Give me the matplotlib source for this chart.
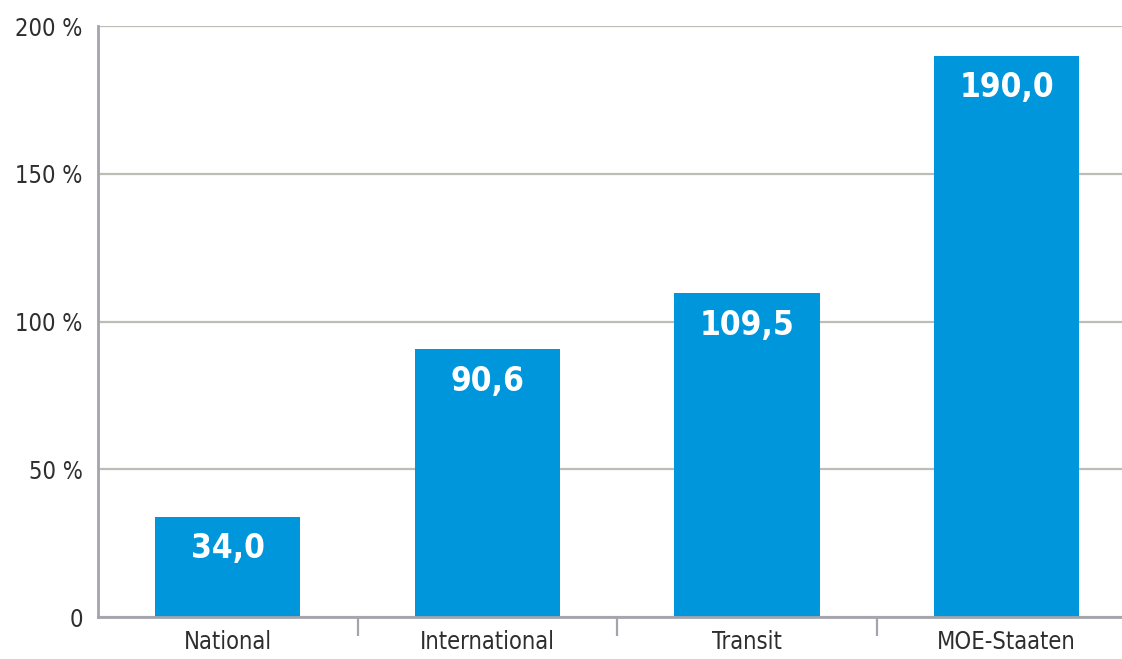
import matplotlib
matplotlib.use("Agg")
import matplotlib.pyplot as plt
from matplotlib.ticker import FixedLocator

# Growth of freight traffic by category (percent)
categories = ["National", "International", "Transit", "MOE-Staaten"]
values = [34.0, 90.6, 109.5, 190.0]
yticks = [0, 50, 100, 150, 200]
ytick_labels = ["0", "50 %", "100 %", "150 %", "200 %"]

bar_color = "#0096DB"
grid_color = "#BDBDB5"
spine_color = "#A4A4AC"
text_color = "#2E2E2E"
font = ["DejaVu Sans"]

fig = plt.figure(figsize=(11.22, 6.59), dpi=100)
ax = fig.add_axes([0.0873, 0.0637, 0.9127, 0.8968])

x = range(len(categories))
bars = ax.bar(x, values, width=0.56, color=bar_color, zorder=3)

ax.set_xlim(-0.5, 3.445)
ax.set_ylim(0, 200)

# horizontal guide lines
ax.set_yticks(yticks)
ax.set_yticklabels(ytick_labels, family=font, fontstretch="condensed",
                   fontsize=17, color=text_color)
ax.yaxis.grid(True, color=grid_color, linewidth=1.6, zorder=0)
ax.tick_params(axis="y", length=0, pad=11)

# category labels under the bars, separator ticks between them
ax.set_xticks(list(x))
ax.set_xticklabels(categories, family=font, fontstretch="condensed",
                   fontsize=17, color=text_color)
ax.tick_params(axis="x", which="major", length=0, pad=9)
ax.xaxis.set_minor_locator(FixedLocator([0.5, 1.5, 2.5]))
ax.tick_params(axis="x", which="minor", length=14, width=1.6, color=spine_color)

for side in ["top", "right"]:
    ax.spines[side].set_visible(False)
for side in ["left", "bottom"]:
    ax.spines[side].set_color(spine_color)
    ax.spines[side].set_linewidth(2)
    ax.spines[side].set_zorder(4)

# value labels inside the bars
for rect, v in zip(bars, values):
    label = f"{v:.1f}".replace(".", ",")
    ax.annotate(label, (rect.get_x() + rect.get_width() / 2, v),
                xytext=(0, -11), textcoords="offset points",
                ha="center", va="top", color="white", fontsize=24,
                fontweight="bold", family=font, fontstretch="condensed",
                zorder=5)

fig.savefig("out.png", dpi=100)
